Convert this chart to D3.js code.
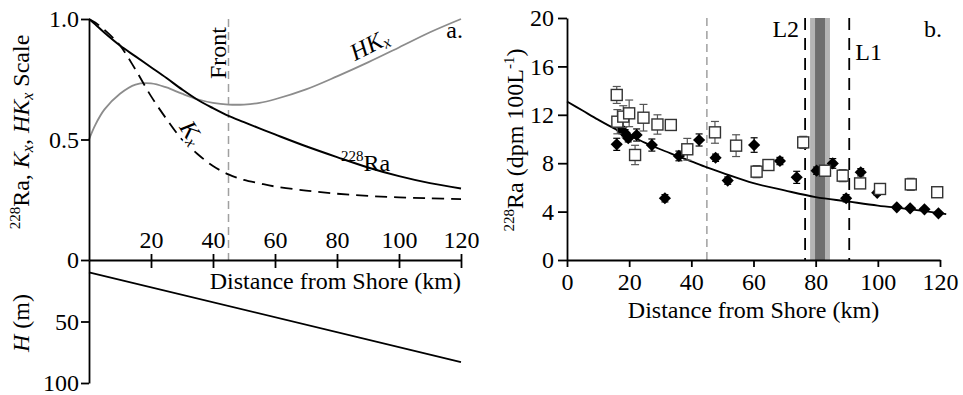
<!DOCTYPE html>
<html><head><meta charset="utf-8">
<script src="https://cdn.jsdelivr.net/npm/d3@7"></script>
<style>
body{margin:0;background:#fff;}
svg{display:block;font-family:"Liberation Serif","Times New Roman",serif;}
</style></head>
<body><svg id="c" width="963" height="395"></svg>
<script>
// ---------- Panel a data ----------
const distKm   = [0,2,5,10,15,20,25,30,35,40,45,50,55,60,70,80,90,100,110,120];
const raScale  = [1.0,0.978,0.943,0.89,0.845,0.80,0.755,0.708,0.665,0.63,0.598,0.572,0.546,0.521,0.472,0.427,0.384,0.348,0.319,0.297];
const kxScale  = [1.0,0.985,0.955,0.89,0.79,0.68,0.585,0.50,0.44,0.39,0.355,0.332,0.318,0.305,0.288,0.275,0.266,0.26,0.256,0.253];
const hkxScale = [0.5,0.56,0.625,0.69,0.728,0.733,0.716,0.69,0.667,0.652,0.645,0.645,0.652,0.667,0.708,0.762,0.82,0.882,0.945,1.0];
const depthKm  = [0,120];
const depthM   = [10,83];
const frontKm  = 45;
const aXTicks  = [20,40,60,80,100,120];
const aYTicks  = [0,0.5,1.0];
const hTicks   = [50,100];

// ---------- Panel b data ----------
const modelKm  = [0,5,10,15,20,25,30,35,40,45,50,60,70,80,90,100,110,122];
const modelRa  = [13.1,12.35,11.6,10.9,10.3,9.7,9.15,8.65,8.15,7.65,7.2,6.35,5.75,5.2,4.85,4.5,4.2,3.8];
const sqKm  = [16.0,16.2,18.1,20.0,21.9,24.6,29.1,33.4,38.7,47.6,54.4,61.0,64.8,76.0,83.0,88.7,94.3,100.7,110.6,119.1];
const sqRa  = [13.64,11.43,11.85,12.12,8.68,11.76,11.2,11.16,9.15,10.55,9.45,7.3,7.85,9.72,7.38,6.97,6.33,5.87,6.25,5.6];
const sqErr = [0.7,1.0,0.9,1.1,0.8,1.1,0.8,0.4,0.9,0.9,0.9,0.5,0.2,0.5,0.4,0.5,0.2,0.2,0.5,0.4];
const dmKm  = [16.0,17.6,18.7,19.7,22.4,27.3,31.5,36.0,42.5,47.8,51.7,60.2,68.5,73.9,80.3,85.5,89.8,94.5,99.8,106.1,110.4,115.0,119.5];
const dmRa  = [9.56,10.74,10.47,10.06,10.33,9.5,5.1,8.6,9.92,8.45,6.56,9.5,8.18,6.83,7.38,7.98,5.1,7.25,5.55,4.35,4.27,4.19,3.86];
const dmErr = [0.5,0.3,0.3,0.3,0.5,0.5,0.3,0.4,0.5,0.3,0.3,0.6,0.3,0.5,0.3,0.4,0.3,0.3,0.2,0.1,0.1,0.1,0.1];
const frontBKm = 45;
const l2Km = 76.6, l1Km = 90.8;
const bandOuter = [78.2,84.6];
const bandInner = [79.8,83.0];
const bXTicks = [0,20,40,60,80,100,120];
const bYTicks = [0,4,8,12,16,20];

const svg = d3.select("#c");
const FS = 24, TFS = 24;

// ================= Panel a =================
const xA = d3.scaleLinear([0,120],[89,461]);
const yA = d3.scaleLinear([0,1],[260,19]);
const hA = d3.scaleLinear([0,100],[260,383]);

const ga = svg.append("g");
ga.append("line").attr("x1",xA(frontKm)).attr("x2",xA(frontKm)).attr("y1",yA(1)).attr("y2",yA(0))
  .attr("stroke","#a0a0a0").attr("stroke-width",1.5).attr("stroke-dasharray","8,5");

const lineA = (vals)=>d3.line().x((d,i)=>xA(distKm[i])).y(d=>yA(d)).curve(d3.curveCatmullRom.alpha(0.5))(vals);
ga.append("path").attr("d",lineA(hkxScale)).attr("fill","none").attr("stroke","#8c8c8c").attr("stroke-width",1.8);
ga.append("path").attr("d",lineA(kxScale)).attr("fill","none").attr("stroke","#000").attr("stroke-width",1.8).attr("stroke-dasharray","12,7");
ga.append("path").attr("d",lineA(raScale)).attr("fill","none").attr("stroke","#000").attr("stroke-width",2);
ga.append("path").attr("d",d3.line().x((d,i)=>xA(depthKm[i])).y(d=>hA(d))(depthM))
  .attr("fill","none").attr("stroke","#000").attr("stroke-width",1.8);

const axAy = ga.append("g").attr("transform","translate(89,0)")
  .call(d3.axisLeft(yA).tickValues(aYTicks).tickFormat(d=>d===0?"0":d3.format(".1f")(d)).tickSize(8).tickPadding(2).tickSizeOuter(0));
const axAh = ga.append("g").attr("transform","translate(89,0)")
  .call(d3.axisLeft(hA).tickValues(hTicks).tickSize(8).tickPadding(2).tickSizeOuter(0));
const axAx = ga.append("g").attr("transform","translate(0,260)")
  .call(d3.axisTop(xA).tickValues(aXTicks).tickSize(6).tickPadding(6).tickSizeOuter(0));
axAx.selectAll(".tick line").attr("y1",8);
[axAy,axAh,axAx].forEach(a=>{
  a.selectAll("path,line").attr("stroke","#000").attr("stroke-width",1.8);
  a.selectAll("text").attr("font-size",TFS).attr("fill","#000").attr("font-family","Liberation Serif");
});

ga.append("text").attr("x",461).attr("y",289).attr("text-anchor","end").attr("font-size",FS).text("Distance from Shore (km)");
ga.append("text").attr("x",463).attr("y",38).attr("text-anchor","end").attr("font-size",FS).text("a.");
ga.append("text").attr("transform",`translate(${xA(frontKm)-3},53) rotate(-90)`).attr("text-anchor","middle").attr("font-size",FS).text("Front");

{
  const t = ga.append("text").attr("transform","translate(29,132) rotate(-90)").attr("text-anchor","middle").attr("font-size",FS);
  t.append("tspan").attr("font-size",15).attr("dy",-9).text("228");
  t.append("tspan").attr("dy",9).text("Ra, ");
  t.append("tspan").attr("font-style","italic").text("K");
  t.append("tspan").attr("font-style","italic").attr("font-size",16).attr("dy",4).text("x");
  t.append("tspan").attr("dy",-4).text(", ");
  t.append("tspan").attr("font-style","italic").text("HK");
  t.append("tspan").attr("font-style","italic").attr("font-size",16).attr("dy",4).text("x");
  t.append("tspan").attr("dy",-4).text(" Scale");
}
{
  const t = ga.append("text").attr("transform","translate(29,323) rotate(-90)").attr("text-anchor","middle").attr("font-size",FS);
  t.append("tspan").attr("font-style","italic").text("H");
  t.append("tspan").text(" (m)");
}
{
  const t = ga.append("text").attr("transform","translate(373,52) rotate(-27)").attr("text-anchor","middle").attr("font-size",FS);
  t.append("tspan").attr("font-style","italic").text("HK");
  t.append("tspan").attr("font-style","italic").attr("font-size",16).attr("dy",3).text("x");
}
{
  const t = ga.append("text").attr("x",341).attr("y",171).attr("font-size",FS);
  t.append("tspan").attr("font-size",15).attr("dy",-10).text("228");
  t.append("tspan").attr("dy",10).text("Ra");
}
{
  const t = ga.append("text").attr("transform","translate(185,137) rotate(58)").attr("text-anchor","middle").attr("font-size",FS)
    .attr("stroke","#fff").attr("stroke-width",5).attr("paint-order","stroke").attr("stroke-linejoin","round");
  t.append("tspan").attr("font-style","italic").text("K");
  t.append("tspan").attr("font-style","italic").attr("font-size",16).attr("dy",3).text("x");
}

// ================= Panel b =================
const xB = d3.scaleLinear([0,120],[567,940]);
const yB = d3.scaleLinear([0,20],[260,18]);
const gb = svg.append("g");

gb.append("rect").attr("x",xB(bandOuter[0])).attr("width",xB(bandOuter[1])-xB(bandOuter[0]))
  .attr("y",yB(20)).attr("height",yB(0)-yB(20)).attr("fill","#b4b4b4");
gb.append("rect").attr("x",xB(bandInner[0])).attr("width",xB(bandInner[1])-xB(bandInner[0]))
  .attr("y",yB(20)).attr("height",yB(0)-yB(20)).attr("fill","#6e6e6e");
gb.append("line").attr("x1",xB(frontBKm)).attr("x2",xB(frontBKm)).attr("y1",yB(20)).attr("y2",yB(0))
  .attr("stroke","#a0a0a0").attr("stroke-width",1.5).attr("stroke-dasharray","8,5");
[l2Km,l1Km].forEach(k=>{
  gb.append("line").attr("x1",xB(k)).attr("x2",xB(k)).attr("y1",yB(20)).attr("y2",yB(0))
    .attr("stroke","#000").attr("stroke-width",1.8).attr("stroke-dasharray","12,8");
});

gb.append("path").attr("d",d3.line().x((d,i)=>xB(modelKm[i])).y(d=>yB(d)).curve(d3.curveCatmullRom.alpha(0.5))(modelRa))
  .attr("fill","none").attr("stroke","#000").attr("stroke-width",1.8);

const dmData = dmKm.map((k,i)=>({k,v:dmRa[i],e:dmErr[i]}));
const dmG = gb.append("g");
dmData.forEach(d=>{
  const x = xB(d.k);
  dmG.append("line").attr("x1",x).attr("x2",x).attr("y1",yB(d.v-d.e)).attr("y2",yB(d.v+d.e)).attr("stroke","#000").attr("stroke-width",1.2);
  [d.v-d.e,d.v+d.e].forEach(v=>dmG.append("line").attr("x1",x-3.5).attr("x2",x+3.5).attr("y1",yB(v)).attr("y2",yB(v)).attr("stroke","#000").attr("stroke-width",1.2));
});
dmG.selectAll("path.dm").data(dmData).join("path").attr("class","dm")
  .attr("d",d3.symbol(d3.symbolSquare,74)())
  .attr("transform",d=>`translate(${xB(d.k)},${yB(d.v)}) rotate(45)`).attr("fill","#000");

const sqData = sqKm.map((k,i)=>({k,v:sqRa[i],e:sqErr[i]}));
const sqG = gb.append("g");
sqData.forEach(d=>{
  const x = xB(d.k);
  sqG.append("line").attr("x1",x).attr("x2",x).attr("y1",yB(d.v-d.e)).attr("y2",yB(d.v+d.e)).attr("stroke","#555").attr("stroke-width",1.2);
  [d.v-d.e,d.v+d.e].forEach(v=>sqG.append("line").attr("x1",x-4).attr("x2",x+4).attr("y1",yB(v)).attr("y2",yB(v)).attr("stroke","#555").attr("stroke-width",1.2));
});
sqG.selectAll("rect.sq").data(sqData).join("rect").attr("class","sq")
  .attr("x",d=>xB(d.k)-5.5).attr("y",d=>yB(d.v)-5.5).attr("width",11).attr("height",11)
  .attr("fill","#fff").attr("stroke","#333").attr("stroke-width",1.4);

const axBx = gb.append("g").attr("transform","translate(0,260)")
  .call(d3.axisBottom(xB).tickValues(bXTicks).tickSize(7).tickPadding(6).tickSizeOuter(0));
const axBy = gb.append("g").attr("transform","translate(567,0)")
  .call(d3.axisLeft(yB).tickValues(bYTicks).tickSize(9).tickPadding(4).tickSizeOuter(0));
[axBx,axBy].forEach(a=>{
  a.selectAll("path,line").attr("stroke","#000").attr("stroke-width",1.8);
  a.selectAll("text").attr("font-size",TFS).attr("fill","#000").attr("font-family","Liberation Serif");
});

gb.append("text").attr("x",xB(60)).attr("y",318).attr("text-anchor","middle").attr("font-size",FS).text("Distance from Shore (km)");
{
  const t = gb.append("text").attr("transform","translate(523,140) rotate(-90)").attr("text-anchor","middle").attr("font-size",FS);
  t.append("tspan").attr("font-size",15).attr("dy",-9).text("228");
  t.append("tspan").attr("dy",9).text("Ra (dpm 100L");
  t.append("tspan").attr("font-size",15).attr("dy",-9).text("-1");
  t.append("tspan").attr("dy",9).text(")");
}
gb.append("text").attr("x",xB(l2Km)-6).attr("y",37).attr("text-anchor","end").attr("font-size",FS).text("L2");
gb.append("text").attr("x",xB(l1Km)+6).attr("y",60).attr("font-size",FS).text("L1");
gb.append("text").attr("x",942).attr("y",37).attr("text-anchor","end").attr("font-size",FS).text("b.");
</script></body></html>
